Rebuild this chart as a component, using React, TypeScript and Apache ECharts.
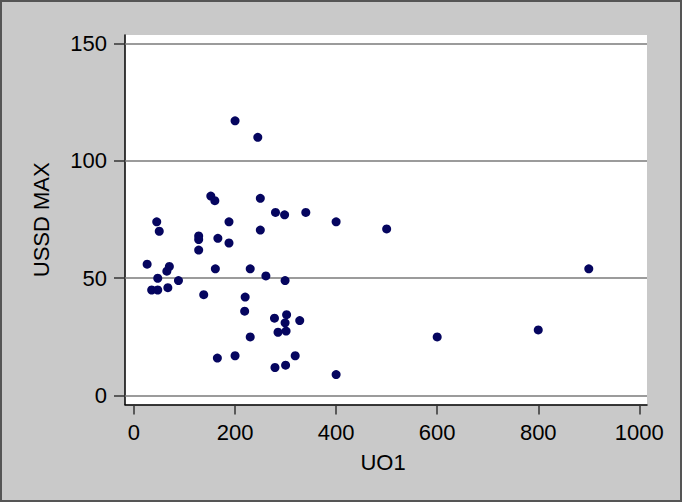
import React, { useEffect, useRef } from "react";
import * as echarts from "echarts";

// UO1 values
const uo1: number[] = [
  200, 245, 152, 160, 250, 45, 188, 280, 298, 340, 400, 500, 50, 250, 128, 128, 166, 188, 128,
  26, 70, 65, 161, 230, 900, 261, 47, 88, 299, 35, 47, 67, 138, 220, 219, 278, 302, 328, 299,
  301, 285, 230, 600, 800, 165, 200, 319, 279, 300, 400,
];
// USSD MAX values
const ussdMax: number[] = [
  117, 110, 85, 83, 84, 74, 74, 78, 77, 78, 74, 71, 70, 70.5, 68, 66.5, 67, 65, 62,
  56, 55, 53, 54, 54, 54, 51, 50, 49, 49, 45, 45, 46, 43, 42, 36, 33, 34.5, 32, 31,
  27.5, 27, 25, 25, 28, 16, 17, 17, 12, 13, 9,
];

const xTicks: number[] = [0, 200, 400, 600, 800, 1000];
const yTicks: number[] = [0, 50, 100, 150];

const X_MIN = -17.8;
const X_MAX = 1015.2;
const Y_MIN = -3.75;
const Y_MAX = 153.55;

const FONT = "'Liberation Sans', Arial, sans-serif";

export default function App() {
  const ref = useRef<HTMLDivElement>(null);

  useEffect(() => {
    if (!ref.current) return;
    const chart = echarts.init(ref.current, null, { renderer: "svg" });
    const points = uo1.map((x, i) => [x, ussdMax[i]]);
    chart.setOption({
      animation: false,
      backgroundColor: "#c9c9c9",
      textStyle: { fontFamily: FONT },
      grid: {
        left: 125,
        top: 35,
        width: 522,
        height: 369.5,
        show: true,
        backgroundColor: "#ffffff",
        borderWidth: 0,
        containLabel: false,
      },
      xAxis: {
        type: "value",
        min: X_MIN,
        max: X_MAX,
        name: "UO1",
        nameLocation: "middle",
        nameGap: 47,
        nameTextStyle: { fontSize: 22, color: "#000", fontFamily: FONT, padding: [0, 6, 0, 0] },
        axisLine: { show: true, onZero: false, lineStyle: { color: "#000", width: 1.5 } },
        axisTick: {
          show: true,
          inside: false,
          length: 10,
          customValues: xTicks,
          lineStyle: { color: "#333", width: 1.5 },
        },
        axisLabel: {
          customValues: xTicks,
          margin: 17,
          fontSize: 22,
          color: "#000",
          fontFamily: FONT,
          formatter: (v: number) => String(v),
        },
        splitLine: { show: false },
      },
      yAxis: {
        type: "value",
        min: Y_MIN,
        max: Y_MAX,
        name: "USSD MAX",
        nameLocation: "middle",
        nameGap: 73,
        nameRotate: 90,
        nameTextStyle: { fontSize: 22, color: "#000", fontFamily: FONT },
        axisLine: { show: true, onZero: false, lineStyle: { color: "#000", width: 1.5 } },
        axisTick: {
          show: true,
          inside: false,
          length: 11,
          customValues: yTicks,
          lineStyle: { color: "#333", width: 1.5 },
        },
        axisLabel: {
          customValues: yTicks,
          margin: 18,
          fontSize: 22,
          color: "#000",
          fontFamily: FONT,
          formatter: (v: number) => String(v),
        },
        splitLine: { show: false },
      },
      graphic: [
        {
          type: "rect",
          shape: { x: 1, y: 1, width: 680, height: 500 },
          style: { fill: "none", stroke: "#555555", lineWidth: 2 },
          silent: true,
        },
      ],
      series: [
        {
          type: "scatter",
          data: points,
          symbol: "circle",
          symbolSize: 9,
          itemStyle: { color: "#05055f", opacity: 1 },
          z: 3,
          markLine: {
            silent: true,
            symbol: ["none", "none"],
            label: { show: false },
            lineStyle: { color: "#7a7a7a", width: 1.5, type: "solid" },
            data: yTicks.map((v) => ({ yAxis: v })),
            z: 1,
          },
        },
      ],
    });
    return () => chart.dispose();
  }, []);

  return (
    <div
      ref={ref}
      style={{ position: "fixed", left: 0, top: 0, width: 682, height: 502 }}
    />
  );
}
